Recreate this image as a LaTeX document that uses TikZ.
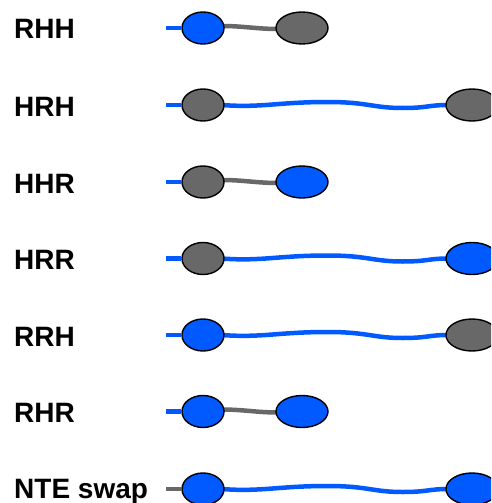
\documentclass[tikz,border=0pt]{standalone}
\usepackage{fontspec}
\setmainfont{Liberation Sans}
\usetikzlibrary{shapes.geometric,backgrounds,calc}
\definecolor{rblue}{RGB}{0,90,255}
\definecolor{hgrey}{RGB}{104,104,104}
\tikzset{
  lbl/.style={anchor=base west,inner sep=0pt,font=\fontsize{28}{28}\selectfont\bfseries},
  ellL/.style={ellipse,draw=black,line width=1.4pt,minimum width=42pt,minimum height=32pt,inner sep=0pt},
  ellR/.style={ellipse,draw=black,line width=1.4pt,minimum width=52pt,minimum height=32pt,inner sep=0pt},
  R/.style={fill=rblue},
  H/.style={fill=hgrey},
  bline/.style={draw=rblue,line width=4.5pt},
  gline/.style={draw=hgrey,line width=4.5pt},
}
\newcommand{\shortrow}[6]{% name, y, label, leftstyle, rightstyle, linestyle
  \node[lbl] (#1t) at (14,#2+11) {#3};
  \node[ellL,#4] (#1a) at (203,#2) {};
  \node[ellR,#5] (#1b) at (302,#2) {};
  \coordinate (#1s) at (166,#2);
  \begin{scope}[on background layer]
    \draw[bline] (#1s) -- (#1a.west);
    \draw[#6] ($(#1a.east)+(-3,-2)$) .. controls +(22,0) and +(-22,0) .. ($(#1b.west)+(3,1)$);
  \end{scope}
}
\newcommand{\longrow}[7]{% name, y, label, leftstyle, rightstyle, stubstyle, labelshift
  \node[lbl] (#1t) at (14,#2+#7) {#3};
  \node[ellL,#4] (#1a) at (203,#2) {};
  \node[ellR,#5] (#1b) at (472,#2) {};
  \coordinate (#1s) at (166,#2);
  \begin{scope}[on background layer]
    \draw[#6] (#1s) -- (#1a.west);
    \draw[bline] ($(#1a.east)+(-3,0)$) .. controls +(40,3) and +(-50,0) .. ($(#1a.east)+(103,-3)$)
       .. controls +(40,0) and +(-30,0) .. ($(#1a.east)+(178,3)$)
       .. controls +(25,0) and +(-20,0) .. ($(#1b.west)+(3,0)$);
  \end{scope}
}
\begin{document}
\begin{tikzpicture}[x=1pt,y=-1pt]
\clip (0,0) rectangle (491,503);
\useasboundingbox (0,0) rectangle (491,503);
\shortrow{r1}{28}{RHH}{R}{H}{gline}
\longrow{r2}{105}{HRH}{H}{H}{bline}{11}
\shortrow{r3}{182}{HHR}{H}{R}{gline}
\longrow{r4}{258.5}{HRR}{H}{R}{bline}{11}
\longrow{r5}{335}{RRH}{R}{H}{bline}{11}
\shortrow{r6}{411.5}{RHR}{R}{R}{gline}
\longrow{r7}{489}{NTE swap}{R}{R}{gline}{9}
\end{tikzpicture}
\end{document}
